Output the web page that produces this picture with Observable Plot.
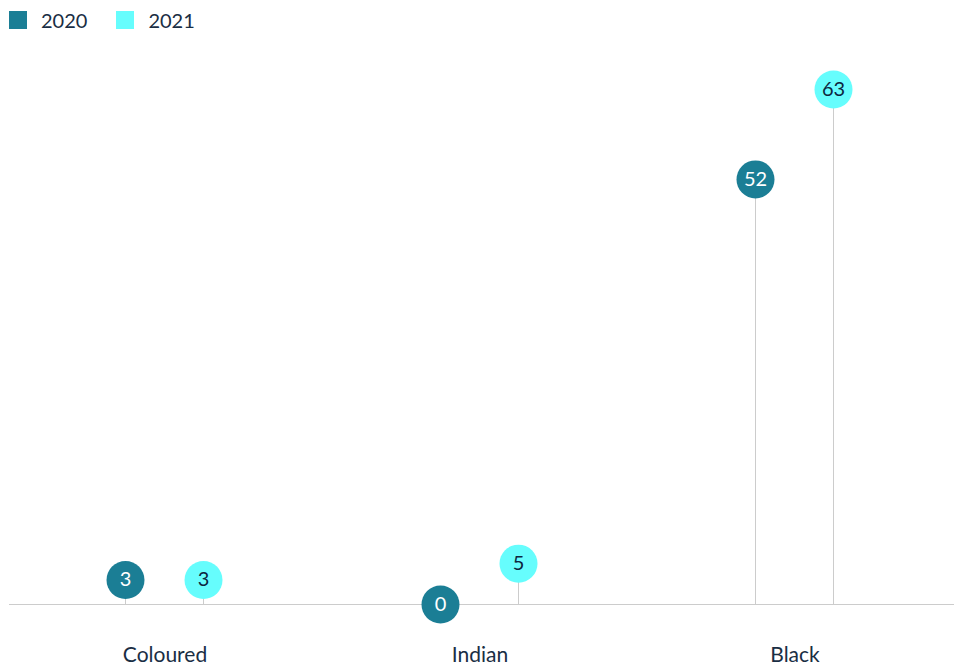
<!DOCTYPE html>
<html>
<head>
<meta charset="utf-8">
<script src="https://cdn.jsdelivr.net/npm/d3@7"></script>
<script src="https://cdn.jsdelivr.net/npm/@observablehq/plot@0.6"></script>
<style>
  body { margin: 0; background: #fff; font-family: Lato, "Noto Sans", sans-serif; }
  #legend { height: 40px; display: flex; align-items: center; padding-left: 9px; box-sizing: border-box; padding-top: 0px; }
  .item { display: flex; align-items: center; margin-right: 29px; font-size: 20px; color: #1a2e44; }
  .sw { width: 18px; height: 18px; margin-right: 14px; }
</style>
</head>
<body>
<div id="legend"></div>
<div id="chart"></div>
<script>
const categories = ["Coloured", "Indian", "Black"];
const years = ["2020", "2021"];
const values2020 = [3, 0, 52];
const values2021 = [3, 5, 63];
const colors = ["#1b7e95", "#66fdfd"];
const labelColors = ["#ffffff", "#0d2640"];

const data = [];
categories.forEach((c, i) => {
  data.push({category: c, year: years[0], value: values2020[i]});
  data.push({category: c, year: years[1], value: values2021[i]});
});

const legend = document.getElementById("legend");
years.forEach((y, i) => {
  const it = document.createElement("div");
  it.className = "item";
  it.innerHTML = `<div class="sw" style="background:${colors[i]}"></div><span>${y}</span>`;
  legend.appendChild(it);
});

const chart = Plot.plot({
  width: 967,
  height: 628,
  marginTop: 49,
  marginBottom: 64,
  marginLeft: 8,
  marginRight: 12,
  style: {fontFamily: "Lato, 'Noto Sans', sans-serif", fontSize: "20px", color: "#1a2e44"},
  fx: {domain: categories, padding: 0, label: null},
  x: {domain: years, type: "point", padding: 1.5, axis: null},
  y: {domain: [0, d3.max(values2021.concat(values2020))], axis: null},
  color: {domain: years, range: colors},
  marks: [
    Plot.ruleY([0], {stroke: "#cccccc", strokeWidth: 1}),
    Plot.ruleX(data, {fx: "category", x: "year", y1: 0, y2: "value", dx: -3, stroke: "#cccccc", strokeWidth: 1}),
    Plot.dot(data, {fx: "category", x: "year", y: "value", r: 19, dx: -3, fill: "year", stroke: null}),
    Plot.text(data, {fx: "category", x: "year", y: "value", dx: -3, text: d => String(d.value), fontSize: 20,
      fill: d => labelColors[years.indexOf(d.year)]}),
    Plot.axisFx({anchor: "bottom", tickSize: 0, tickPadding: 43, dx: -2, fontSize: 21, label: null, fill: "#1a2e44"})
  ]
});
document.getElementById("chart").appendChild(chart);
</script>
</body>
</html>
